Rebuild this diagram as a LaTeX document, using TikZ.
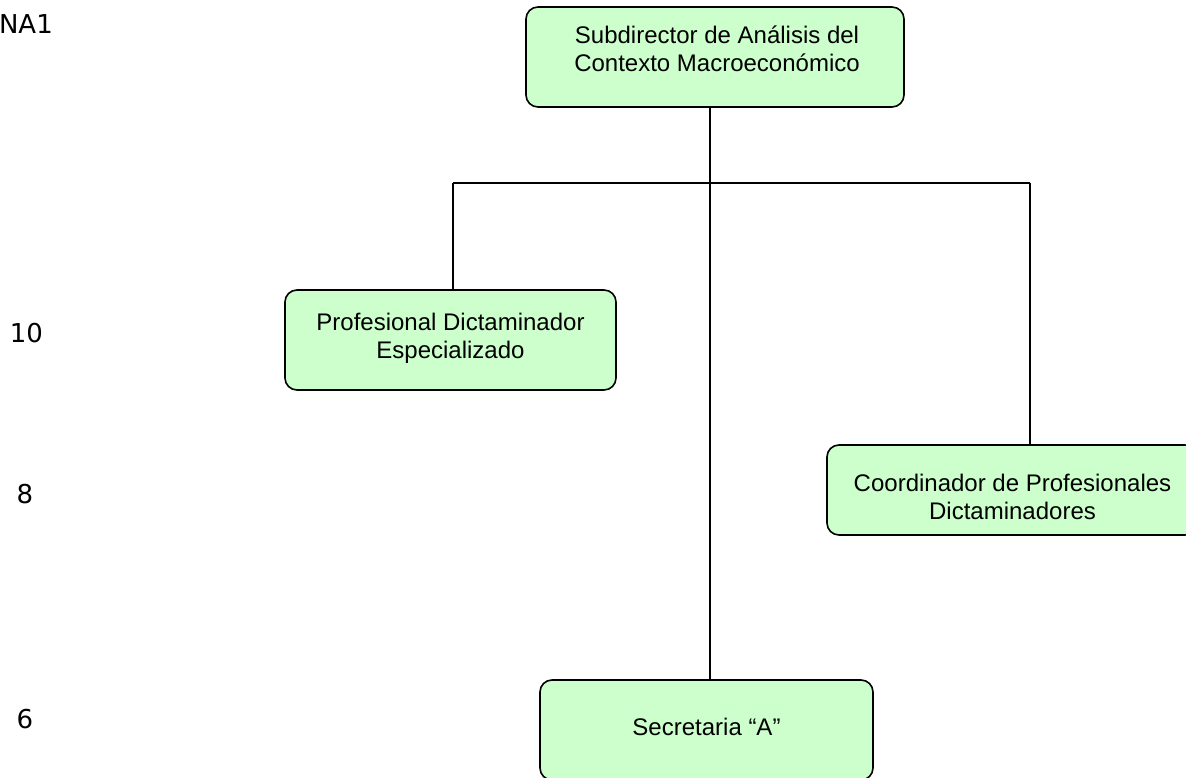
\documentclass[tikz,border=0pt]{standalone}
\usepackage{fontspec}
\setmainfont{Liberation Sans}
\newfontfamily\levelfont{DejaVu Sans}
\definecolor{boxfill}{HTML}{CCFFCC}
\begin{document}
\begin{tikzpicture}[x=1pt,y=-1pt,
  orgbox/.style={draw=black, line width=1.6pt, fill=boxfill, rounded corners=12pt,
    inner sep=0pt, outer sep=0pt},
  boxtext/.style={align=center, inner sep=0pt, font={\fontsize{24}{28}\selectfont}},
  levellabel/.style={inner sep=0pt, font={\levelfont\fontsize{26}{30}\selectfont}},
  link/.style={draw=black, line width=1.6pt}]
\useasboundingbox (0,0) rectangle (1186,778);
\clip (0,0) rectangle (1186,778);

% level labels
\node[levellabel, anchor=base east] (na1) at (53,34) {NA1};
\node[levellabel, anchor=base] (n10) at (26.5,342) {10};
\node[levellabel, anchor=base] (n8) at (25,503) {8};
\node[levellabel, anchor=base] (n6) at (25,728) {6};

% boxes
\node[orgbox, minimum width=378pt, minimum height=100pt] (sub) at (715,57) {};
\node[boxtext] (subt) at (717,48.5) {Subdirector de Análisis del\\Contexto Macroeconómico};

\node[orgbox, minimum width=331pt, minimum height=100pt] (pde) at (450.5,340) {};
\node[boxtext] (pdet) at (450.5,338) {Profesional Dictaminador\\Especializado};

\node[orgbox, minimum width=370pt, minimum height=90pt] (cpd) at (1012,490) {};
\node[boxtext] (cpdt) at (1012.5,497) {Coordinador de Profesionales\\Dictaminadores};

\node[orgbox, minimum width=333pt, minimum height=100pt] (sec) at (706.5,730) {};
\node[boxtext] (sect) at (706.5,726.5) {Secretaria “A”};

% connectors
\coordinate (trunk) at (710,183);
\coordinate (busL) at (453,183);
\coordinate (busR) at (1030,183);
\draw[link] (sub.south -| trunk) -- (sec.north -| trunk);
\draw[link] (busL) -- (busR);
\draw[link] (busL) -- (pde.north -| busL);
\draw[link] (busR) -- (cpd.north -| busR);
\end{tikzpicture}
\end{document}
